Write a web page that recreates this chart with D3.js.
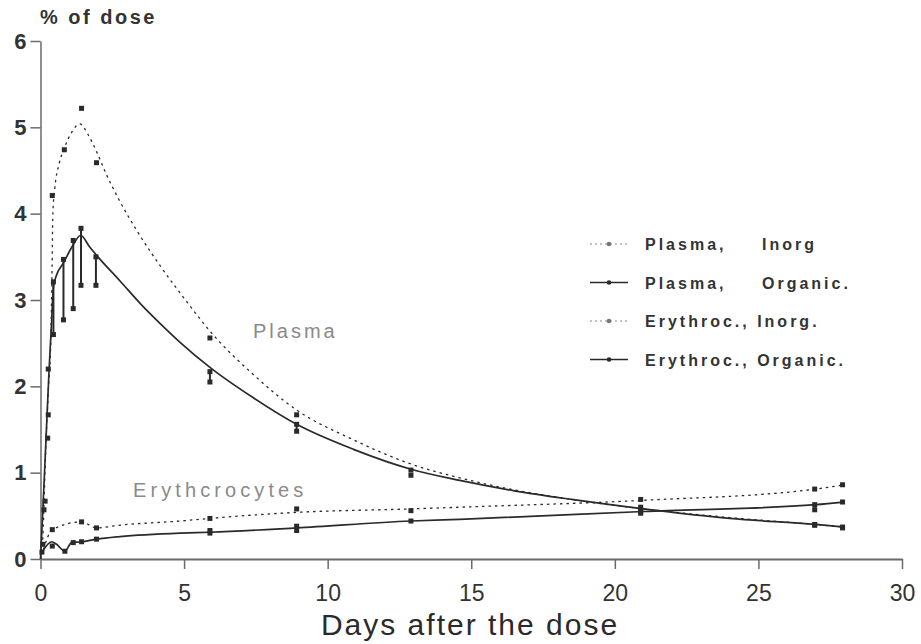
<!DOCTYPE html>
<html>
<head>
<meta charset="utf-8">
<script src="https://cdn.jsdelivr.net/npm/d3@7"></script>
<style>
  body { margin: 0; background: #fff; }
  text { font-family: "Liberation Sans", Arial, sans-serif; }
</style>
</head>
<body>
<div id="chart"></div>
<script>
// measured points (day, % of dose)
var plasmaInorgPts = [[0.16,0.67],[0.27,2.2],[0.41,4.21],[0.83,4.74],[1.43,5.22],[1.95,4.59],
  [5.9,2.56],[8.92,1.67],[12.9,1.03],[20.9,0.6],[26.96,0.4],[27.93,0.37]];
var plasmaOrgPts = [[0.12,0.57],[0.25,1.4],[0.27,1.67],[0.45,2.6],[0.45,3.21],[0.8,2.77],[0.8,3.47],
  [1.14,2.9],[1.14,3.69],[1.41,3.17],[1.41,3.83],[1.93,3.17],[1.93,3.5],[5.9,2.05],[5.9,2.17],
  [8.92,1.48],[8.92,1.56],[12.9,0.97],[20.9,0.53],[26.96,0.39],[27.93,0.36]];
var eryInorgPts = [[0.08,0.17],[0.41,0.34],[1.43,0.43],[1.95,0.36],[5.9,0.47],[8.92,0.58],
  [12.9,0.56],[20.9,0.69],[26.96,0.81],[27.93,0.86]];
var eryOrgPts = [[0.05,0.08],[0.41,0.15],[0.85,0.09],[1.14,0.19],[1.43,0.2],[1.95,0.23],[5.9,0.3],[5.9,0.33],
  [8.92,0.33],[8.92,0.38],[12.9,0.44],[20.9,0.55],[20.9,0.57],[26.96,0.57],[26.96,0.63],[27.93,0.66]];

// fitted curves
var plasmaInorgFit = [[0,0],[0.08,0.25],[0.18,1.27],[0.28,2.0],[0.36,2.55],[0.4,3.3],[0.43,4.0],[0.5,4.3],
  [0.65,4.58],[0.83,4.76],[1.1,4.95],[1.37,5.04],[1.65,4.92],[1.95,4.72],[2.3,4.45],[2.72,4.17],[3.4,3.78],
  [4.16,3.4],[5.14,2.96],[5.9,2.64],[7.4,2.14],[8.9,1.73],[10.9,1.38],[12.9,1.1],[14.6,0.94],
  [16.5,0.8],[18.5,0.69],[21,0.58],[24,0.48],[27,0.4],[28,0.37]];
var plasmaOrgFit = [[0,0],[0.1,0.7],[0.2,1.45],[0.3,2.2],[0.38,2.7],[0.45,3.15],[0.55,3.28],[0.8,3.43],
  [1.14,3.64],[1.4,3.75],[1.7,3.62],[2.0,3.5],[2.77,3.22],[3.5,2.95],[4.16,2.73],[4.86,2.51],[5.9,2.22],
  [7.4,1.87],[8.92,1.56],[10.9,1.27],[12.9,1.04],[14.6,0.91],[16.5,0.79],[18.5,0.69],[21,0.58],
  [24,0.47],[27,0.4],[28,0.37]];
var eryInorgFit = [[0.1,0.11],[0.41,0.34],[1.43,0.43],[1.95,0.36],[2.7,0.39],[4.86,0.44],[5.9,0.47],
  [8.9,0.54],[12.9,0.58],[14.6,0.6],[21,0.68],[27,0.81],[28,0.86]];
var eryOrgFit = [[0.04,0.07],[0.39,0.2],[0.56,0.17],[0.85,0.09],[1.08,0.19],[1.43,0.2],[1.95,0.23],
  [2.77,0.26],[4.86,0.3],[5.9,0.31],[8.92,0.36],[12.9,0.44],[14.6,0.46],[21,0.55],[27,0.63],[28,0.66]];

var xTicks = [0, 5, 10, 15, 20, 25, 30];
var yTicks = [0, 1, 2, 3, 4, 5, 6];
var legendLabels = [["Plasma,", "Inorg"], ["Plasma,", "Organic."], ["Erythroc., Inorg.", ""], ["Erythroc., Organic.", ""]];

var svgWidth = 921, svgHeight = 644;
var svg = d3.select("#chart").append("svg")
  .attr("width", svgWidth)
  .attr("height", svgHeight);

var x = d3.scaleLinear().domain([0, 30]).range([40.5, 902]);
var y = d3.scaleLinear().domain([0, 6]).range([559, 41]);

var ink = "#2a2a2a";
var axisCol = "#6a6a6a";

// axes
var bottomAxis = d3.axisBottom(x).tickValues(xTicks).tickSize(10).tickSizeOuter(0).tickFormat(d3.format("d"));
var gx = svg.append("g").attr("transform", "translate(0," + y(0) + ")").call(bottomAxis);
gx.select(".domain").attr("stroke", axisCol).attr("stroke-width", 2);
gx.selectAll(".tick line").attr("stroke", axisCol).attr("stroke-width", 1.5);
gx.selectAll(".tick text")
  .attr("y", 26)
  .attr("fill", "#333")
  .style("font-size", "23px")
  .style("font-family", "'Liberation Sans Narrow', 'Liberation Sans', sans-serif");

var leftAxis = d3.axisLeft(y).tickValues(yTicks).tickSize(10).tickSizeOuter(0).tickFormat(d3.format("d"));
var gy = svg.append("g").attr("transform", "translate(" + x(0) + ",0)").call(leftAxis);
gy.select(".domain").attr("stroke", axisCol).attr("stroke-width", 1.5);
gy.selectAll(".tick line").attr("stroke", axisCol).attr("stroke-width", 1.5);
gy.selectAll(".tick text")
  .attr("x", -14)
  .attr("fill", "#333")
  .style("font-size", "22px")
  .style("font-weight", "bold");

svg.append("text")
  .attr("x", 40).attr("y", 24)
  .attr("fill", "#333")
  .style("font-size", "20px")
  .style("font-weight", "bold")
  .style("letter-spacing", "2.5px")
  .text("% of dose");

svg.append("text")
  .attr("x", 470).attr("y", 635)
  .attr("text-anchor", "middle")
  .attr("fill", "#2a2a2a")
  .style("font-size", "30px")
  .style("letter-spacing", "2px")
  .text("Days after the dose");

// fitted lines
var line = d3.line().x(d => x(d[0])).y(d => y(d[1])).curve(d3.curveMonotoneX);
var fits = [
  {data: plasmaInorgFit, dash: "2.5,4", w: 1.3},
  {data: plasmaOrgFit, dash: null, w: 1.7},
  {data: eryInorgFit, dash: "2.5,4", w: 1.3},
  {data: eryOrgFit, dash: null, w: 1.7}
];
fits.forEach(function(f) {
  svg.append("path")
    .datum(f.data)
    .attr("d", line)
    .attr("fill", "none")
    .attr("stroke", ink)
    .attr("stroke-width", f.w)
    .attr("stroke-dasharray", f.dash);
});

// vertical bars joining replicate organic values
[plasmaOrgPts, eryOrgPts].forEach(function(pts) {
  var groups = d3.rollups(pts, v => d3.extent(v, d => d[1]), d => d[0]);
  svg.selectAll(null).data(groups.filter(g => g[1][1] > g[1][0])).enter()
    .append("line")
    .attr("x1", d => x(d[0])).attr("x2", d => x(d[0]))
    .attr("y1", d => y(d[1][0])).attr("y2", d => y(d[1][1]))
    .attr("stroke", ink)
    .attr("stroke-width", 2);
});

// markers
[plasmaInorgPts, plasmaOrgPts, eryInorgPts, eryOrgPts].forEach(function(pts) {
  svg.selectAll(null).data(pts).enter()
    .append("rect")
    .attr("x", d => x(d[0]) - 2.5)
    .attr("y", d => y(d[1]) - 2.5)
    .attr("width", 5).attr("height", 5)
    .attr("fill", ink);
});

// curve labels
svg.append("text")
  .attr("x", 253).attr("y", 338)
  .attr("fill", "#8a8a8a")
  .style("font-size", "20px")
  .style("letter-spacing", "3px")
  .text("Plasma");
svg.append("text")
  .attr("x", 133).attr("y", 497)
  .attr("fill", "#8a8a8a")
  .style("font-size", "20px")
  .style("letter-spacing", "4.1px")
  .text("Erythcrocytes");

// legend
var legend = svg.append("g");
var rows = legend.selectAll("g").data(legendLabels).enter()
  .append("g")
  .attr("transform", (d, i) => "translate(0," + (244 + i * 38.5) + ")");
rows.append("line")
  .attr("x1", 590).attr("x2", 628).attr("y1", 0).attr("y2", 0)
  .attr("stroke", (d, i) => i % 2 === 0 ? "#888" : ink)
  .attr("stroke-width", (d, i) => i % 2 === 0 ? 1.2 : 1.6)
  .attr("stroke-dasharray", (d, i) => i % 2 === 0 ? "2,3" : null);
rows.append("circle")
  .attr("cx", 609).attr("cy", 0).attr("r", 2.3)
  .attr("fill", (d, i) => i % 2 === 0 ? "#777" : ink);
rows.append("text")
  .attr("x", 645).attr("y", 6)
  .attr("fill", "#333")
  .style("font-size", "16px")
  .style("font-weight", "bold")
  .style("letter-spacing", "3px")
  .text(d => d[0]);
rows.append("text")
  .attr("x", 762).attr("y", 6)
  .attr("fill", "#333")
  .style("font-size", "16px")
  .style("font-weight", "bold")
  .style("letter-spacing", "3px")
  .text(d => d[1]);
</script>
</body>
</html>
